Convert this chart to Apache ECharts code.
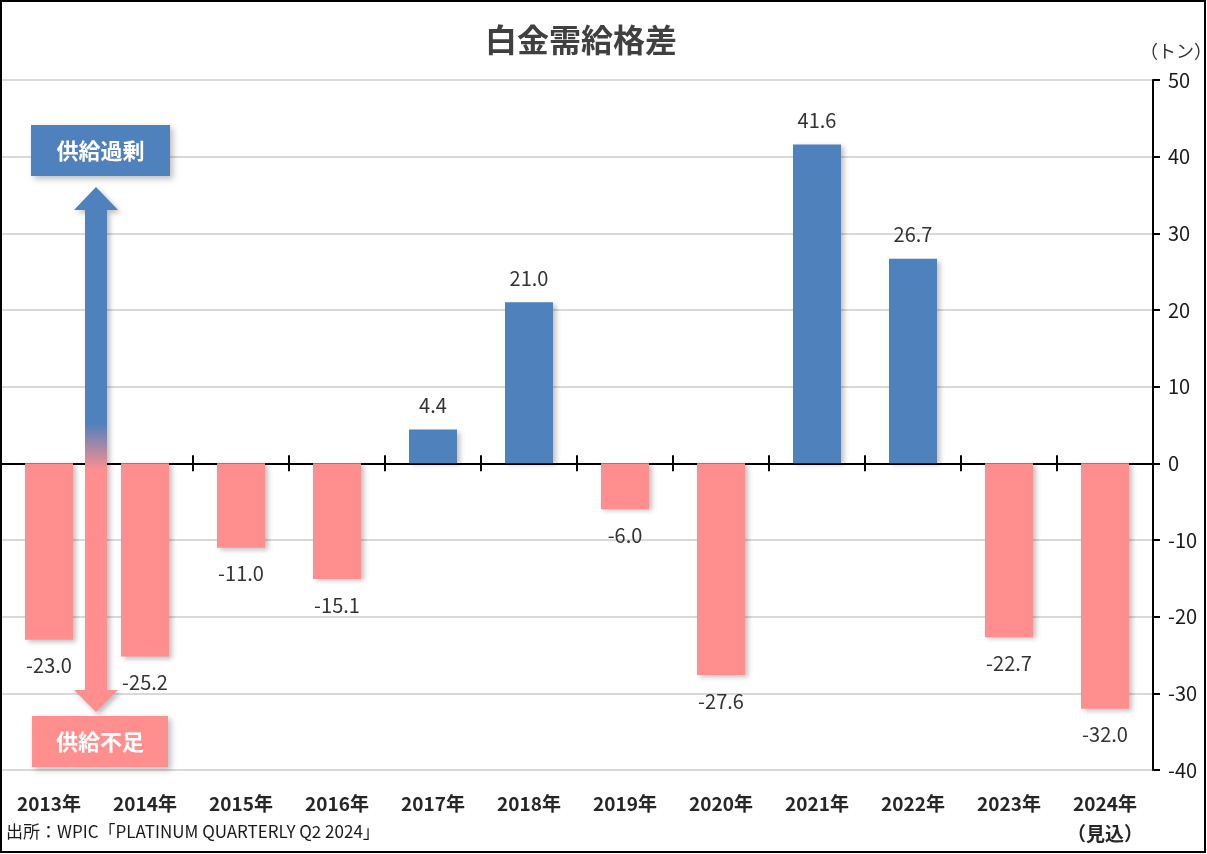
<!DOCTYPE html>
<html>
<head>
<meta charset="utf-8">
<script src="https://cdn.jsdelivr.net/npm/echarts@6/dist/echarts.min.js"></script>
<style>
html,body{margin:0;padding:0;background:#fff;}
#chart{width:1207px;height:854px;}
</style>
</head>
<body>
<div id="chart"></div>
<script>
const categories = ['2013年','2014年','2015年','2016年','2017年','2018年','2019年','2020年','2021年','2022年','2023年','2024年\n（見込）'];
const balance = [-23.0, -25.2, -11.0, -15.1, 4.4, 21.0, -6.0, -27.6, 41.6, 26.7, -22.7, -32.0];
const titleText = '白金需給格差';
const unitText = '（トン）';
const sourceText = '出所：WPIC「PLATINUM QUARTERLY Q2 2024」';
const surplusText = '供給過剰';
const deficitText = '供給不足';

const BLUE = '#4f81bd';
const PINK = '#ff8f8f';
const CJK = '"Noto Sans CJK JP", "Noto Sans", sans-serif';

const chart = echarts.init(document.getElementById('chart'), null, {renderer: 'canvas'});

const barData = balance.map(v => ({
  value: v,
  itemStyle: {color: v >= 0 ? BLUE : PINK},
  label: {position: v >= 0 ? 'top' : 'bottom', distance: v >= 0 ? 14 : 16}
}));

const option = {
  backgroundColor: '#fff',
  animation: false,
  title: {
    text: titleText,
    left: 480,
    top: 19,
    textStyle: {fontFamily: CJK, fontSize: 32, fontWeight: 'bold', color: '#404040'}
  },
  grid: {left: 1, right: 54, top: 80, bottom: 84, containLabel: false},
  xAxis: [
    {
      type: 'category', data: categories, position: 'bottom',
      axisLine: {onZero: true, onZeroAxisIndex: 0, lineStyle: {color: '#000', width: 2}},
      axisTick: {show: true, inside: false, length: 8, interval: 0, lineStyle: {color: '#000', width: 2}},
      axisLabel: {show: false},
      splitLine: {show: false}
    },
    {
      type: 'category', data: categories, position: 'bottom',
      axisLine: {show: true, onZero: true, onZeroAxisIndex: 0, lineStyle: {color: 'rgba(0,0,0,0)', width: 0}},
      axisTick: {show: true, inside: true, length: 8, interval: 0, lineStyle: {color: '#000', width: 2}},
      axisLabel: {show: false},
      splitLine: {show: false}
    },
    {
      type: 'category', data: categories, position: 'bottom',
      axisLine: {show: false, onZero: false},
      axisTick: {show: false},
      axisLabel: {show: true, interval: 0, margin: 19, fontFamily: CJK, fontSize: 19, fontWeight: 'bold', color: '#262626', lineHeight: 30},
      splitLine: {show: false}
    }
  ],
  yAxis: {
    type: 'value', position: 'right', min: -40, max: 50, interval: 10,
    axisLine: {show: true, lineStyle: {color: '#000', width: 2}},
    axisTick: {show: true, inside: false, length: 7, lineStyle: {color: '#000', width: 2}},
    axisLabel: {margin: 15, fontFamily: CJK, fontSize: 20, color: '#1a1a1a'},
    splitLine: {show: true, lineStyle: {color: '#d9d9d9', width: 2}}
  },
  series: [{
    type: 'bar',
    xAxisIndex: 0,
    data: barData,
    barWidth: '50%',
    itemStyle: {shadowBlur: 5, shadowOffsetX: 3, shadowOffsetY: 2, shadowColor: 'rgba(0,0,0,0.25)'},
    label: {
      show: true,
      fontFamily: CJK, fontSize: 20, color: '#333',
      formatter: p => p.value.toFixed(1)
    },
    z: 3
  }],
  graphic: [
    {
      type: 'polygon', z: 100,
      shape: {points: [[96,187],[118,210],[107,210],[107,690],[118,690],[96,712],[74,690],[85,690],[85,210],[74,210]]},
      style: {
        fill: new echarts.graphic.LinearGradient(0,0,0,1,[
          {offset: 0, color: BLUE},
          {offset: 0.45, color: BLUE},
          {offset: 0.54, color: PINK},
          {offset: 1, color: PINK}
        ]),
        shadowBlur: 5, shadowOffsetX: 3, shadowOffsetY: 3, shadowColor: 'rgba(0,0,0,0.25)'
      }
    },
    {type: 'rect', z: 101, shape: {x: 31, y: 125, width: 139, height: 51},
      style: {fill: BLUE, shadowBlur: 6, shadowOffsetX: 3, shadowOffsetY: 3, shadowColor: 'rgba(0,0,0,0.25)'}},
    {type: 'text', z: 102, x: 100.5, y: 151,
      style: {text: surplusText, fill: '#fff', fontFamily: CJK, fontSize: 22, fontWeight: 'bold', align: 'center', verticalAlign: 'middle'}},
    {type: 'rect', z: 101, shape: {x: 32, y: 716, width: 136, height: 51},
      style: {fill: PINK, shadowBlur: 6, shadowOffsetX: 3, shadowOffsetY: 3, shadowColor: 'rgba(0,0,0,0.25)'}},
    {type: 'text', z: 102, x: 100, y: 742,
      style: {text: deficitText, fill: '#fff', fontFamily: CJK, fontSize: 22, fontWeight: 'bold', align: 'center', verticalAlign: 'middle'}},
    {
      type: 'text', x: 1176, y: 51, z: 100,
      style: {text: unitText, fill: '#333', fontFamily: CJK, fontSize: 18, align: 'center', verticalAlign: 'middle'}
    },
    {
      type: 'text', x: 6, y: 832, z: 100,
      style: {text: sourceText, fill: '#1a1a1a', fontFamily: CJK, fontSize: 17, align: 'left', verticalAlign: 'middle'}
    },
    {
      type: 'rect', z: 200, silent: true,
      shape: {x: 1, y: 1, width: 1204, height: 851},
      style: {fill: 'none', stroke: '#000', lineWidth: 2}
    }
  ]
};

chart.setOption(option);
</script>
</body>
</html>
